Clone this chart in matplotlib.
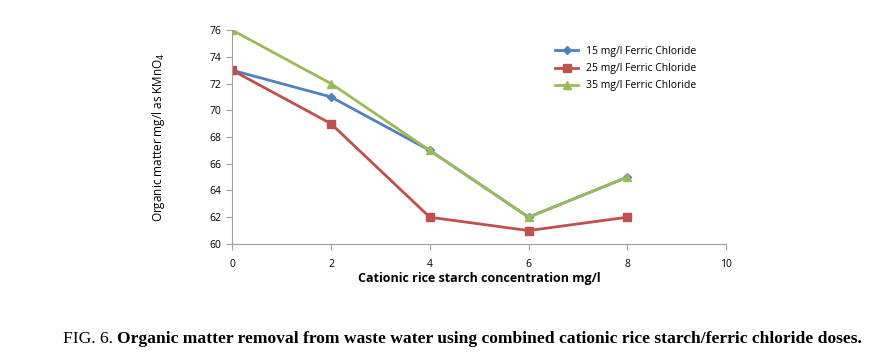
import matplotlib
matplotlib.use("Agg")
from matplotlib import pyplot as plt

# starch dose (mg/l) and organic matter readings
x = [0, 2, 4, 6, 8]
fe15 = [73, 71, 67, 62, 65]
fe25 = [73, 69, 62, 61, 62]
fe35 = [76, 72, 67, 62, 65]
labels = ["15 mg/l Ferric Chloride", "25 mg/l Ferric Chloride", "35 mg/l Ferric Chloride"]

fig = plt.figure(figsize=(8.76, 3.63), dpi=100)
ax = fig.add_axes([0.265, 0.328, 0.564, 0.589])

ax.plot(x, fe15, color="#4F81BD", marker="D", markersize=4, lw=2, label=labels[0])
ax.plot(x, fe25, color="#C0504D", marker="s", markersize=6, lw=2, label=labels[1])
ax.plot(x, fe35, color="#9BBB59", marker="^", markersize=6, lw=2, label=labels[2])

ax.set_xlim(0, 10)
ax.set_ylim(60, 76)
ax.set_xticks(range(0, 11, 2))
ax.set_yticks(range(60, 77, 2))
for s in ["top", "right"]:
    ax.spines[s].set_visible(False)
for s in ["left", "bottom"]:
    ax.spines[s].set_color("#A0A0A0")
ax.tick_params(colors="#A0A0A0", labelcolor="black", labelsize=7.5, length=4)
ax.tick_params(axis="x", pad=7)
for t in ax.get_xticklabels() + ax.get_yticklabels():
    t.set_family("Open Sans")

ax.set_xlabel("Cationic rice starch concentration mg/l", fontsize=9, fontweight="bold",
              family="Open Sans", labelpad=1)
ax.set_ylabel("Organic matter mg/l as KMnO$_4$", fontsize=8.5, family="Open Sans", labelpad=31)

ax.legend(loc="upper left", bbox_to_anchor=(0.635, 0.97), frameon=False,
          prop={"family": "Open Sans", "size": 7.5}, handlelength=2.2, labelspacing=0.6)

# caption: plain "FIG. 6." then bold text right after it
t1 = fig.text(0.072, 0.055, "FIG. 6. ", family="Liberation Serif", fontsize=12.6, ha="left")
fig.canvas.draw()
bb = t1.get_window_extent()
x2 = bb.x1 / fig.bbox.width
fig.text(x2, 0.055, "Organic matter removal from waste water using combined cationic rice starch/ferric chloride doses.",
         family="Liberation Serif", fontsize=12.6, fontweight="bold", ha="left")

plt.savefig("out.png", dpi=100)
